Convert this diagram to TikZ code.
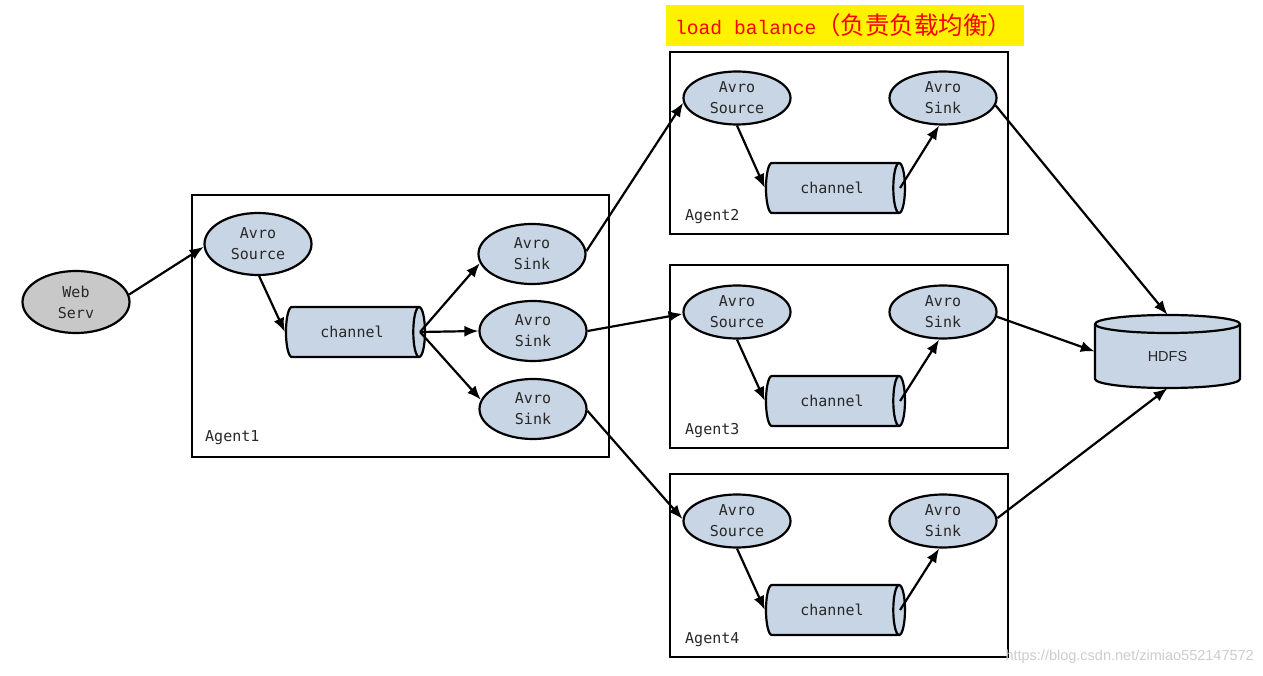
\documentclass[tikz,border=0pt]{standalone}
\usepackage{fontspec}
\newfontfamily\monof{DejaVu Sans Mono}
\newfontfamily\titlef{Liberation Mono}
\newfontfamily\cjk{Noto Sans CJK SC}
\newfontfamily\arialf{Liberation Sans}
\usetikzlibrary{shapes.geometric,arrows.meta,calc}
\definecolor{nodeblue}{RGB}{200,213,228}
\definecolor{webgray}{RGB}{200,200,200}
\definecolor{txt}{RGB}{40,40,40}
\definecolor{wm}{RGB}{205,205,205}
\begin{document}
\begin{tikzpicture}[x=1pt,y=-1pt,
  every node/.style={inner sep=0pt},
  nodefont/.style={font=\monof\fontsize{15}{21}\selectfont,text=txt},
  ell/.style={ellipse,draw,line width=2.2pt,fill=nodeblue,minimum width=107pt,minimum height=53pt,align=center,nodefont},
  ellbig/.style={ell,minimum height=62pt},
  chan/.style={cylinder,draw,line width=2.2pt,fill=nodeblue,aspect=1,minimum width=50pt,minimum height=139pt,nodefont},
  agentbox/.style={rectangle,draw,line width=2.2pt},
  agentlbl/.style={anchor=west,nodefont},
  arr/.style={-{Latex[length=14pt,width=11pt]},line width=2.2pt},
  ln/.style={line width=2.2pt}
]
\fill[white] (0,0) rectangle (1263,676);
\useasboundingbox (0,0) rectangle (1263,676);

% title
\node[fill=yellow,minimum width=358pt,minimum height=41pt] (title) at (845,25.5) {};
\node[anchor=west,text=red] (titletxt) at (675,25.5) {\titlef\fontsize{19.6}{22}\selectfont load balance\cjk\fontsize{24.5}{26}\selectfont（负责负载均衡）};

% agent boxes
\node[agentbox,minimum width=417pt,minimum height=262pt] (ag1) at (400.5,326) {};
\node[agentbox,minimum width=338pt,minimum height=182pt] (ag2) at (839,143) {};
\node[agentbox,minimum width=338pt,minimum height=183pt] (ag3) at (839,356.5) {};
\node[agentbox,minimum width=338pt,minimum height=183pt] (ag4) at (839,565.5) {};
\node[agentlbl] (l1) at (205,438) {Agent1};
\node[agentlbl] (l2) at (685,217) {Agent2};
\node[agentlbl] (l3) at (685,431) {Agent3};
\node[agentlbl] (l4) at (685,640) {Agent4};

% web server
\node[ellbig,fill=webgray] (web) at (76,302) {Web\\Serv};

% agent1
\node[ellbig] (src1) at (258,244) {Avro\\Source};
\node[chan] (ch1) at (352,332) {channel};
\node[ellbig,minimum height=60pt] (sa) at (532,254) {Avro\\Sink};
\node[ellbig,minimum height=60pt] (sb) at (533,331) {Avro\\Sink};
\node[ellbig,minimum height=60pt] (sc) at (533,409) {Avro\\Sink};
\coordinate (o1) at ($(ch1.east)+(-6,0)$);

% agents 2-4
\node[ell] (src2) at (737,98) {Avro\\Source};
\node[ell] (snk2) at (943,98) {Avro\\Sink};
\node[chan] (ch2) at (832,188) {channel};
\coordinate (o2) at ($(ch2.east)+(-6,0)$);

\node[ell] (src3) at (737,312) {Avro\\Source};
\node[ell] (snk3) at (943,312) {Avro\\Sink};
\node[chan] (ch3) at (832,401) {channel};
\coordinate (o3) at ($(ch3.east)+(-6,0)$);

\node[ell] (src4) at (737,521) {Avro\\Source};
\node[ell] (snk4) at (943,521) {Avro\\Sink};
\node[chan] (ch4) at (832,610) {channel};
\coordinate (o4) at ($(ch4.east)+(-6,0)$);

% HDFS
\node[minimum width=145pt,minimum height=73pt] (hdfs) at (1167.5,351.5) {};
\filldraw[ln,fill=nodeblue] (1095,324) -- (1095,379) arc[start angle=180,end angle=0,x radius=72.5,y radius=9]
  -- (1240,324) arc[start angle=0,end angle=-180,x radius=72.5,y radius=9] -- cycle;
\draw[ln] (1095,324) arc[start angle=180,end angle=0,x radius=72.5,y radius=9];
\node[font=\arialf\fontsize{14.5}{16}\selectfont,text=txt] (hdfstxt) at (1167.5,357) {HDFS};

% arrows
\draw[arr] (web.8) -- (src1.183);
\draw[arr] (src1.272) -- (ch1.west);
\draw[arr] (o1) -- (sa.190);
\draw[arr] (o1) -- (sb.180);
\draw[arr] (o1) -- (sc.170);
\draw[arr] (sa.3) -- (src2.185);
\draw[arr] (sb.east) -- (src3.182);
\draw[arr] (sc.358) -- (src4.178);

\draw[arr] (src2.south) -- (ch2.west);
\draw[arr] (o2) -- (snk2.262);
\draw[arr] (src3.south) -- (ch3.west);
\draw[arr] (o3) -- (snk3.262);
\draw[arr] (src4.south) -- (ch4.west);
\draw[arr] (o4) -- (snk4.262);

\draw[arr] (snk2.352) -- (hdfs.north);
\draw[arr] (snk3.355) -- (hdfs.west);
\draw[arr] (snk4.3) -- (hdfs.south);

% watermark
\node[anchor=east,text=wm,font=\arialf\fontsize{14.5}{16}\selectfont] (wmk) at (1254,657) {https://blog.csdn.net/zimiao552147572};
\end{tikzpicture}
\end{document}
